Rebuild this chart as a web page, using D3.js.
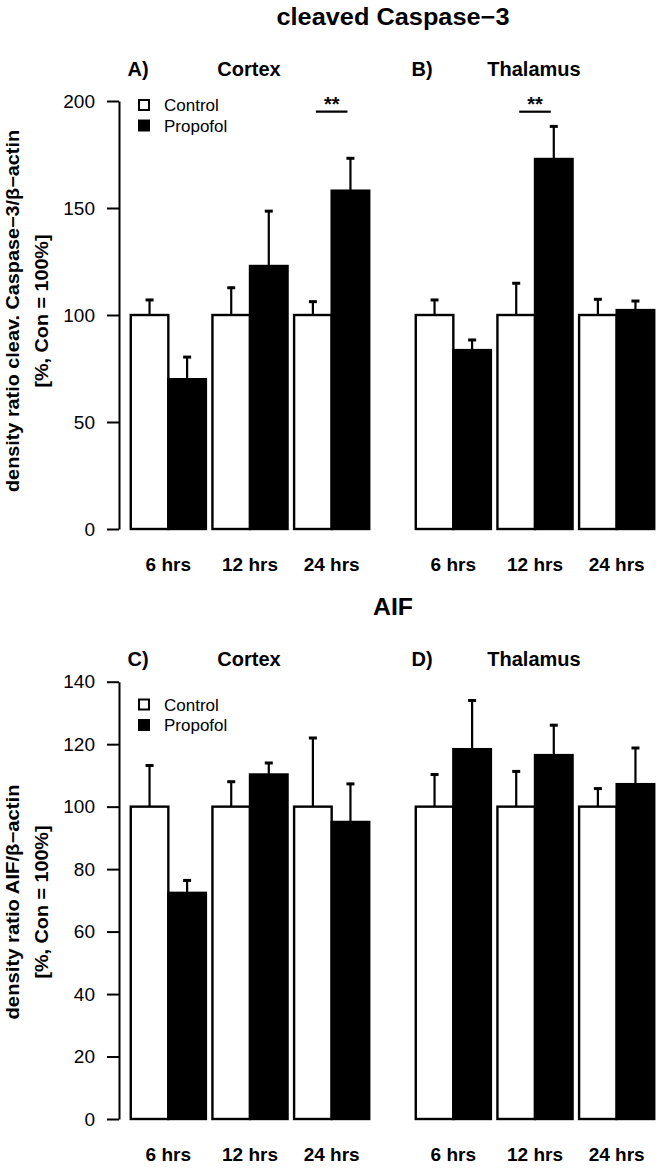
<!DOCTYPE html>
<html>
<head>
<meta charset="utf-8">
<script src="https://cdn.jsdelivr.net/npm/d3@7"></script>
<style>
  html, body { margin: 0; padding: 0; background: #fff; }
  svg { display: block; font-family: "Liberation Sans", Arial, Helvetica, sans-serif; }
</style>
</head>
<body>
<script>
// ---------------- data ----------------
const groups = ["6 hrs", "12 hrs", "24 hrs"];
const seriesNames = ["Control", "Propofol"];

// cleaved Caspase-3 (means and upward SEM)
const caspCortexControl = [100, 100, 100];
const caspCortexControlErr = [7.5, 13.2, 6.7];
const caspCortexPropofol = [70, 122.9, 158.1];
const caspCortexPropofolErr = [10.8, 26.1, 15.6];
const caspThalControl = [100, 100, 100];
const caspThalControlErr = [7.5, 15.3, 7.8];
const caspThalPropofol = [83.6, 172.9, 102.3];
const caspThalPropofolErr = [5.2, 15.7, 4.7];

// AIF
const aifCortexControl = [100, 100, 100];
const aifCortexControlErr = [13.5, 8.3, 22.3];
const aifCortexPropofol = [72.4, 110.3, 95.1];
const aifCortexPropofolErr = [4.3, 4.0, 12.5];
const aifThalControl = [100, 100, 100];
const aifThalControlErr = [10.6, 11.6, 6.1];
const aifThalPropofol = [118.4, 116.5, 107.2];
const aifThalPropofolErr = [15.9, 9.9, 11.9];

const caspTicks = [0, 50, 100, 150, 200];
const aifTicks = [0, 20, 40, 60, 80, 100, 120, 140];

// significance markers: [panel, group, level]
const caspSig = [["A", "24 hrs", 195, "**"], ["B", "12 hrs", 195, "**"]];
const aifSig = [];

// ---------------- layout ----------------
const W = 662, H = 1169;
const svg = d3.select("body").append("svg").attr("width", W).attr("height", H);

const axisX = 119;
const panelRanges = { left: [127.5, 372.5], right: [412.5, 657.5] };

function makeSeries(ctrl, ctrlErr, prop, propErr) {
  return groups.map((g, i) => ({
    group: g,
    values: [
      { s: "Control", v: ctrl[i], e: ctrlErr[i] },
      { s: "Propofol", v: prop[i], e: propErr[i] }
    ]
  }));
}

const rows = [
  {
    title: "cleaved Caspase\u22123", titleY: 25, titleLen: 233,
    yDomain: [0, 200], yRange: [529, 101], ticks: caspTicks,
    ylab1: "density ratio cleav. Caspase\u22123/\u03b2\u2212actin", ylab1Len: 362,
    ylab2: "[%, Con = 100%]", ylab2Len: 153, ylabY: 311,
    labelY: 76, legendY: 105,
    panels: [
      { key: "A", letter: "A)", name: "Cortex", range: panelRanges.left, data: makeSeries(caspCortexControl, caspCortexControlErr, caspCortexPropofol, caspCortexPropofolErr) },
      { key: "B", letter: "B)", name: "Thalamus", range: panelRanges.right, data: makeSeries(caspThalControl, caspThalControlErr, caspThalPropofol, caspThalPropofolErr) }
    ],
    sig: caspSig
  },
  {
    title: "AIF", titleY: 615, titleLen: 40,
    yDomain: [0, 140], yRange: [1119, 681.7], ticks: aifTicks,
    ylab1: "density ratio AIF/\u03b2\u2212actin", ylab1Len: 235,
    ylab2: "[%, Con = 100%]", ylab2Len: 153, ylabY: 902,
    labelY: 666, legendY: 704.5,
    panels: [
      { key: "C", letter: "C)", name: "Cortex", range: panelRanges.left, data: makeSeries(aifCortexControl, aifCortexControlErr, aifCortexPropofol, aifCortexPropofolErr) },
      { key: "D", letter: "D)", name: "Thalamus", range: panelRanges.right, data: makeSeries(aifThalControl, aifThalControlErr, aifThalPropofol, aifThalPropofolErr) }
    ],
    sig: aifSig
  }
];

const color = d3.scaleOrdinal().domain(seriesNames).range(["#ffffff", "#000000"]);

rows.forEach(row => {
  const g = svg.append("g");
  const y = d3.scaleLinear().domain(row.yDomain).range(row.yRange);

  // title
  g.append("text")
    .attr("x", 393).attr("y", row.titleY)
    .attr("text-anchor", "middle")
    .attr("font-size", 23).attr("font-weight", "bold")
    .attr("textLength", row.titleLen).attr("lengthAdjust", "spacingAndGlyphs")
    .text(row.title);

  // y axis
  const ax = g.append("g").attr("transform", `translate(${axisX},0)`)
    .call(d3.axisLeft(y).tickValues(row.ticks).tickSize(12).tickSizeOuter(0).tickPadding(12).tickFormat(d3.format("d")));
  ax.select(".domain").attr("stroke", "#000").attr("stroke-width", 2);
  ax.selectAll(".tick line").attr("stroke", "#000").attr("stroke-width", 2);
  ax.selectAll(".tick text").attr("font-size", 19).attr("fill", "#000")
    .attr("font-family", "Liberation Sans, Arial, sans-serif");

  // y label (two lines)
  const yc = row.ylabY;
  g.append("text")
    .attr("transform", `translate(19,${yc}) rotate(-90)`)
    .attr("text-anchor", "middle").attr("font-size", 17.5).attr("font-weight", "bold")
    .attr("textLength", row.ylab1Len).attr("lengthAdjust", "spacingAndGlyphs")
    .text(row.ylab1);
  g.append("text")
    .attr("transform", `translate(48,${yc}) rotate(-90)`)
    .attr("text-anchor", "middle").attr("font-size", 17.5).attr("font-weight", "bold")
    .attr("textLength", row.ylab2Len).attr("lengthAdjust", "spacingAndGlyphs")
    .text(row.ylab2);

  row.panels.forEach((p, pi) => {
    const x = d3.scaleBand().domain(groups).range(p.range).paddingInner(0.08).paddingOuter(0.04);
    const xs = d3.scaleBand().domain(seriesNames).range([0, x.bandwidth()]).padding(0);

    // panel letter and region name
    const labelCenterL = pi === 0 ? 138 : 422;
    const nameCenter = x("12 hrs") + x.bandwidth() / 2 - 1;
    g.append("text").attr("x", labelCenterL).attr("y", row.labelY)
      .attr("text-anchor", "middle").attr("font-size", 20).attr("font-weight", "bold").text(p.letter);
    g.append("text").attr("x", nameCenter).attr("y", row.labelY)
      .attr("text-anchor", "middle").attr("font-size", 20).attr("font-weight", "bold").text(p.name);

    const grp = g.selectAll(null).data(p.data).enter().append("g")
      .attr("transform", d => `translate(${x(d.group)},0)`);

    // bars
    grp.selectAll("rect").data(d => d.values).enter().append("rect")
      .attr("x", d => xs(d.s))
      .attr("width", xs.bandwidth())
      .attr("y", d => y(d.v))
      .attr("height", d => y(0) - y(d.v))
      .attr("fill", d => color(d.s))
      .attr("stroke", "#000").attr("stroke-width", 2.4);

    // error bars (upward only)
    grp.selectAll("line.err").data(d => d.values).enter().append("line")
      .attr("class", "err")
      .attr("x1", d => xs(d.s) + xs.bandwidth() / 2)
      .attr("x2", d => xs(d.s) + xs.bandwidth() / 2)
      .attr("y1", d => y(d.v))
      .attr("y2", d => y(d.v + d.e))
      .attr("stroke", "#000").attr("stroke-width", 2.2);
    grp.selectAll("line.cap").data(d => d.values).enter().append("line")
      .attr("class", "cap")
      .attr("x1", d => xs(d.s) + xs.bandwidth() / 2 - 4)
      .attr("x2", d => xs(d.s) + xs.bandwidth() / 2 + 4)
      .attr("y1", d => y(d.v + d.e) + 1)
      .attr("y2", d => y(d.v + d.e) + 1)
      .attr("stroke", "#000").attr("stroke-width", 3);

    // x category labels
    g.selectAll(null).data(groups).enter().append("text")
      .attr("x", d => x(d) + x.bandwidth() / 2)
      .attr("y", y(0) + 42)
      .attr("text-anchor", "middle").attr("font-size", 19).attr("font-weight", "bold")
      .text(d => d);

    // significance
    row.sig.filter(s => s[0] === p.key).forEach(s => {
      const cx = x(s[1]) + x.bandwidth() / 2;
      const hw = x.bandwidth() * 0.21;
      g.append("line").attr("x1", cx - hw).attr("x2", cx + hw)
        .attr("y1", y(s[2])).attr("y2", y(s[2]))
        .attr("stroke", "#000").attr("stroke-width", 2.2);
      g.append("text").attr("x", cx).attr("y", y(s[2]) - 1)
        .attr("text-anchor", "middle").attr("font-size", 20).attr("font-weight", "bold")
        .text(s[3]);
    });

    // legend (left panel only)
    if (pi === 0) {
      const lg = g.append("g");
      seriesNames.forEach((s, si) => {
        const cy = row.legendY + si * 20.5;
        lg.append("rect").attr("x", 139).attr("y", cy - 5).attr("width", 10).attr("height", 10)
          .attr("fill", color(s)).attr("stroke", "#000").attr("stroke-width", 2);
        lg.append("text").attr("x", 164).attr("y", cy + 6)
          .attr("font-size", 17).text(s);
      });
    }
  });
});
</script>
</body>
</html>
